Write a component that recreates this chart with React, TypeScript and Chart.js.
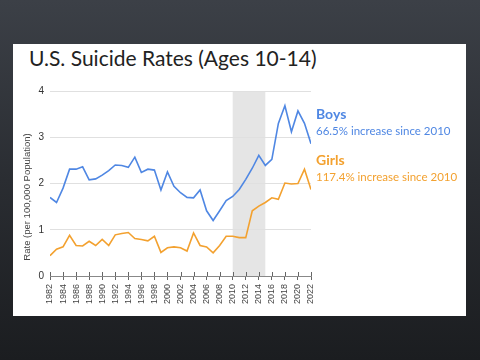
import React, { useEffect, useRef } from "react";
import { Chart, registerables } from "chart.js";
Chart.register(...registerables);

const years = [1982,1983,1984,1985,1986,1987,1988,1989,1990,1991,1992,1993,1994,1995,1996,1997,1998,1999,2000,2001,2002,2003,2004,2005,2006,2007,2008,2009,2010,2011,2012,2013,2014,2015,2016,2017,2018,2019,2020,2021,2022];
const boys = [1.70,1.59,1.90,2.31,2.31,2.36,2.08,2.10,2.18,2.28,2.40,2.39,2.35,2.57,2.24,2.31,2.29,1.86,2.25,1.94,1.80,1.70,1.69,1.86,1.41,1.20,1.41,1.63,1.72,1.87,2.09,2.33,2.61,2.39,2.52,3.30,3.68,3.12,3.57,3.30,2.86];
const girls = [0.44,0.58,0.63,0.88,0.66,0.65,0.75,0.66,0.79,0.66,0.89,0.92,0.94,0.81,0.79,0.76,0.86,0.51,0.61,0.63,0.61,0.54,0.93,0.66,0.63,0.50,0.66,0.86,0.86,0.83,0.83,1.41,1.51,1.59,1.69,1.66,2.01,1.99,2.00,2.31,1.87];
const yTickValues = [0, 1, 2, 3, 4];
const shadeRange = [2010, 2015];
const yTitle = "Rate (per 100,000 Population)";
const title = "U.S. Suicide Rates (Ages 10-14)";
const BLUE = "#4f87e3";
const ORANGE = "#f3a12f";

const extras = {
  id: "extras",
  beforeDraw(chart: any) {
    const { ctx, chartArea, scales } = chart;
    const x = scales.x;
    const x0 = x.getPixelForValue(shadeRange[0]);
    const x1 = x.getPixelForValue(shadeRange[1]);
    ctx.save();
    ctx.fillStyle = "#e5e5e5";
    ctx.fillRect(x0, chartArea.top, x1 - x0, chartArea.bottom - chartArea.top);
    ctx.restore();
  },
  afterDraw(chart: any) {
    const { ctx, chartArea, scales } = chart;
    const x = scales.x;
    ctx.save();
    ctx.strokeStyle = "#666";
    ctx.lineWidth = 1;
    x.ticks.forEach((t: any) => {
      const px = Math.round(x.getPixelForValue(t.value)) + 0.5;
      ctx.beginPath();
      ctx.moveTo(px, chartArea.bottom - 4);
      ctx.lineTo(px, chartArea.bottom);
      ctx.stroke();
    });
    ctx.fillStyle = "#444";
    ctx.font = "9.5px 'Liberation Sans', Arial, sans-serif";
    ctx.textAlign = "center";
    ctx.textBaseline = "middle";
    ctx.translate(27, 197);
    ctx.rotate(-Math.PI / 2);
    ctx.fillText(yTitle, 0, 0);
    ctx.restore();
  },
};

function ChartBox() {
  const ref = useRef<HTMLCanvasElement>(null);
  useEffect(() => {
    const chart = new Chart(ref.current!, {
      type: "line",
      data: {
        datasets: [
          { label: "Boys", data: years.map((y, i) => ({ x: y, y: boys[i] })), borderColor: BLUE, borderWidth: 1.6, pointRadius: 0, tension: 0 },
          { label: "Girls", data: years.map((y, i) => ({ x: y, y: girls[i] })), borderColor: ORANGE, borderWidth: 1.6, pointRadius: 0, tension: 0 },
        ],
      },
      options: {
        animation: false,
        responsive: false,
        maintainAspectRatio: false,
        layout: { padding: { left: 0, right: 169, top: 91, bottom: 0 } },
        plugins: { legend: { display: false }, tooltip: { enabled: false } },
        scales: {
          x: {
            type: "linear",
            min: 1982,
            max: 2022,
            afterFit: (s: any) => { s.height = 84; },
            ticks: {
              stepSize: 2,
              autoSkip: false,
              maxRotation: 90,
              minRotation: 90,
              padding: 4,
              color: "#444",
              font: { family: "'Liberation Sans', Arial, sans-serif", size: 9 },
              callback: (v: any) => String(v),
            },
            grid: { drawOnChartArea: false, drawTicks: true, tickLength: 4, color: "#666" },
            border: { display: true, color: "#888" },
          },
          y: {
            min: 0,
            max: 4,
            afterFit: (s: any) => { s.width = 50; },
            afterBuildTicks: (s: any) => { s.ticks = yTickValues.map((v) => ({ value: v })); },
            ticks: {
              autoSkip: false,
              padding: 6,
              color: "#333",
              font: { family: "'Liberation Sans', Arial, sans-serif", size: 10 },
              callback: (v: any) => String(v),
            },
            grid: { drawTicks: false, color: "#e0e0e0" },
            border: { display: false },
          },
        },
      },
      plugins: [extras],
    });
    return () => chart.destroy();
  }, []);
  return <canvas ref={ref} width={480} height={360} style={{ position: "absolute", left: 0, top: 0, width: 480, height: 360 }} />;
}

export default function App() {
  return (
    <div style={{ position: "fixed", left: 0, top: 0, width: 480, height: 360, overflow: "hidden", background: "linear-gradient(180deg, #3c4047 0%, #2a2d32 50%, #1b1d20 100%)" }}>
      <div style={{ position: "absolute", left: 13, top: 44, width: 453, height: 272, background: "#fff" }} />
      <div style={{ position: "absolute", left: 29, top: 44, fontFamily: "Lato, 'Open Sans', sans-serif", fontSize: 21, color: "#222", whiteSpace: "nowrap", lineHeight: "28px" }}>{title}</div>
      <ChartBox />
      <div style={{ position: "absolute", left: 316, top: 105, fontFamily: "Lato, sans-serif", whiteSpace: "nowrap" }}>
        <div style={{ color: BLUE, fontWeight: 700, fontSize: 14, lineHeight: "18px" }}>Boys</div>
        <div style={{ color: BLUE, fontSize: 11.5, lineHeight: "15px" }}>66.5% increase since 2010</div>
      </div>
      <div style={{ position: "absolute", left: 316, top: 151, fontFamily: "Lato, sans-serif", whiteSpace: "nowrap" }}>
        <div style={{ color: ORANGE, fontWeight: 700, fontSize: 14, lineHeight: "18px" }}>Girls</div>
        <div style={{ color: ORANGE, fontSize: 11.5, lineHeight: "15px" }}>117.4% increase since 2010</div>
      </div>
    </div>
  );
}
